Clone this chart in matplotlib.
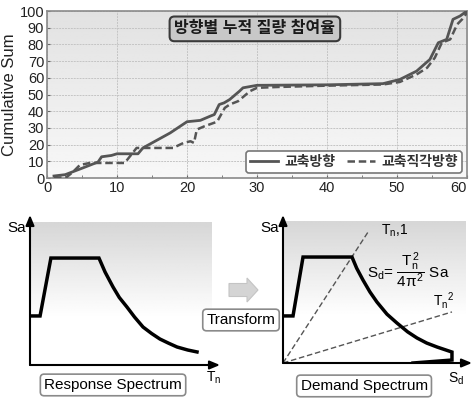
import numpy as np
import matplotlib
matplotlib.use("Agg")
import matplotlib.pyplot as plt
from matplotlib.patches import FancyArrow

plt.rcParams['font.family'] = ['Liberation Sans', 'Noto Sans CJK KR', 'DejaVu Sans']
plt.rcParams['mathtext.fontset'] = 'custom'
plt.rcParams['mathtext.rm'] = 'Liberation Sans'
plt.rcParams['mathtext.it'] = 'Liberation Sans'
plt.rcParams['mathtext.bf'] = 'Liberation Sans:bold'

# ---------------- data: cumulative mass participation ----------------
x_axial = [1, 2.6, 5.1, 7.3, 7.8, 9.2, 10, 13, 13.7, 17.6, 20, 21.9, 23.3, 23.9,
           24.6, 25.3, 26.1, 27.5, 28, 30, 40, 48, 50.4, 52.8, 54.7, 55.9, 57.1,
           58, 59, 60]
y_axial = [1.2, 2, 6, 9.6, 12.7, 13.5, 14.5, 14.5, 18, 27, 33.7, 34.5, 37, 38,
           44, 45, 47, 52, 54, 55.5, 55.8, 56.5, 59, 64, 71, 81, 83, 95, 97, 100]
x_perp = [1, 2.8, 3.7, 4.7, 6.1, 11.1, 12.8, 18, 19.5, 20.5, 21, 21.4, 22.5, 24.3,
          25.4, 26.1, 27.3, 29, 30, 33, 40, 48, 50.4, 52.8, 54.3, 55.4, 56.4, 57.6,
          58.6, 59.3, 60]
y_perp = [0, 0.5, 3.6, 7.8, 9, 9, 18, 18, 21, 22, 21, 29, 31, 33.7, 42, 44, 46, 52,
          54, 54.5, 55.3, 56, 57.5, 62, 66, 72, 81, 83, 92, 95, 99]
x_ticks = [0, 10, 20, 30, 40, 50, 60]
y_ticks = [0, 10, 20, 30, 40, 50, 60, 70, 80, 90, 100]
series_labels = ['교축방향', '교축직각방향']
title_text = '방향별 누적 질량 참여율'

# ---------------- data: schematic spectra (normalised units) ----------------
T_resp = [0, 0.053, 0.11, 0.363, 0.395, 0.437, 0.47, 0.51, 0.55, 0.595, 0.64,
          0.684, 0.73, 0.774, 0.83, 0.879]
Sa_resp = [0.327, 0.327, 0.713, 0.713, 0.62, 0.52, 0.45, 0.387, 0.32, 0.253, 0.21,
           0.173, 0.145, 0.12, 0.10, 0.087]
Sd_dem = [0, 0.053, 0.106, 0.365, 0.39, 0.423, 0.46, 0.497, 0.55, 0.603, 0.66,
          0.709, 0.76, 0.815, 0.894, 0.894, 0.688]
Sa_dem = [0.318, 0.318, 0.716, 0.716, 0.64, 0.561, 0.48, 0.412, 0.33, 0.27, 0.21,
          0.169, 0.135, 0.108, 0.074, 0.02, 0.0]
ray1_sd = [0, 0.45]
ray1_sa = [0, 0.885]
ray2_sd = [0, 0.894]
ray2_sa = [0, 0.345]

W, H = 473, 400
fig = plt.figure(figsize=(W / 100, H / 100), dpi=100)


def fx(px):
    return px / W


def fy(py):
    return 1 - py / H


# ---------------- top chart ----------------
ax = fig.add_axes([fx(47), fy(178), (467 - 47) / W, (178 - 11) / H])
grad = np.linspace(0.97, 0.885, 100).reshape(-1, 1)
ax.imshow(grad, extent=[0, 60, 0, 100], aspect='auto', cmap='gray', vmin=0, vmax=1,
          origin='lower', zorder=0)
ax.set_xlim(0, 60)
ax.set_ylim(0, 100)
ax.set_xticks(x_ticks)
ax.set_yticks(y_ticks)
ax.set_xticks(range(0, 61, 5), minor=True)
ax.tick_params(which='both', direction='in', length=2, color='#666666')
ax.tick_params(labelsize=10.5, pad=2)
for lab in ax.get_xticklabels() + ax.get_yticklabels():
    lab.set_color('#222222')
ax.get_xticklabels()[-1].set_horizontalalignment('right')
ax.grid(True, which='major', color='#c4c4c4', lw=0.7, ls=(0, (2, 1)))
for s in ax.spines.values():
    s.set_color('#8a8a8a')
    s.set_linewidth(1.2)
ax.set_ylabel('Cumulative Sum', fontsize=12, color='#222222', labelpad=2)
ax.plot(x_axial, y_axial, color='#555555', lw=2.0, label=series_labels[0], zorder=3)
ax.plot(x_perp, y_perp, color='#555555', lw=1.8, ls=(0, (3, 1.5)),
        label=series_labels[1], zorder=3)
ax.text(0.495, 0.893, title_text, transform=ax.transAxes, ha='center', va='center',
        fontsize=11.5, fontweight='bold', color='#1a1a1a',
        bbox=dict(boxstyle='round,pad=0.3', fc='#c8c8c8', ec='#3a3a3a', lw=1.5))
leg = ax.legend(loc='lower right', ncol=2, handlelength=2.0,
                columnspacing=0.8, handletextpad=0.5, borderaxespad=0.35,
                borderpad=0.3, fancybox=True, framealpha=1,
                prop={'weight': 'bold', 'size': 10})
leg.get_frame().set_edgecolor('#777777')
leg.get_frame().set_linewidth(1.2)
for t in leg.get_texts():
    t.set_color('#333333')

# ---------------- helper for schematic panels ----------------
def panel(rect, gx, gy):
    a = fig.add_axes(rect)
    a.set_xlim(0, 1)
    a.set_ylim(0, 1)
    a.axis('off')
    g = np.clip(np.linspace(1.08, 0.84, 100), 0, 1).reshape(-1, 1)
    a.imshow(g, extent=[0, gx, 0, gy], aspect='auto', cmap='gray', vmin=0, vmax=1,
             origin='lower', zorder=0)
    a.annotate('', xy=(1.0, 0), xytext=(0, 0), annotation_clip=False,
               arrowprops=dict(arrowstyle='-|>,head_length=0.6,head_width=0.25',
                               color='black', lw=1.5, shrinkA=0, shrinkB=0))
    a.annotate('', xy=(0, 1.0), xytext=(0, 0), annotation_clip=False,
               arrowprops=dict(arrowstyle='-|>,head_length=0.6,head_width=0.25',
                               color='black', lw=1.5, shrinkA=0, shrinkB=0))
    return a

box = dict(boxstyle='round,pad=0.25', fc='white', ec='#8a8a8a', lw=1.2)

# left: response spectrum
a1 = panel([fx(30), fy(365), 190 / W, 150 / H], 0.953, 0.953)
a1.plot(T_resp, Sa_resp, color='black', lw=2.5, solid_joinstyle='miter', zorder=3)
a1.text(-0.07, 0.913, 'Sa', ha='center', va='center', fontsize=11)
a1.text(0.965, -0.085, 'T$_n$', ha='center', va='center', fontsize=10)
a1.text(0.437, -0.133, 'Response Spectrum', ha='center', va='center', fontsize=11,
        bbox=box)

# right: demand spectrum
a2 = panel([fx(283), fy(363), 189 / W, 148 / H], 0.963, 0.953)
a2.plot(ray1_sd, ray1_sa, color='#555555', lw=1.0, ls=(0, (4, 2)), zorder=2)
a2.plot(ray2_sd, ray2_sa, color='#555555', lw=1.0, ls=(0, (4, 2)), zorder=2)
a2.plot(Sd_dem, Sa_dem, color='black', lw=2.5, solid_joinstyle='miter', zorder=3)
a2.text(-0.07, 0.912, 'Sa', ha='center', va='center', fontsize=11)
a2.text(0.915, -0.11, 'S$_d$', ha='center', va='center', fontsize=10)
a2.text(0.59, 0.89, 'T$_n$,1', ha='center', va='center', fontsize=10)
a2.text(0.85, 0.42, 'T$_n$$^2$', ha='center', va='center', fontsize=10)
a2.text(0.665, 0.625, r'S$_d$= $\dfrac{T_n^2}{4\pi^2}$ Sa', ha='center',
        va='center', fontsize=11)
a2.text(0.429, -0.155, 'Demand Spectrum', ha='center', va='center', fontsize=11,
        bbox=box)

# transform arrow and label
fig.patches.append(FancyArrow(fx(229), fy(290), (258 - 229) / W, 0, width=13 / H,
                              head_width=24 / H, head_length=11 / W,
                              length_includes_head=True, transform=fig.transFigure,
                              fc='#d4d4d4', ec='#c4c4c4', lw=0.8))
fig.text(fx(241), fy(320), 'Transform', ha='center', va='center', fontsize=11,
         bbox=box)

fig.savefig('out.png', dpi=100)
